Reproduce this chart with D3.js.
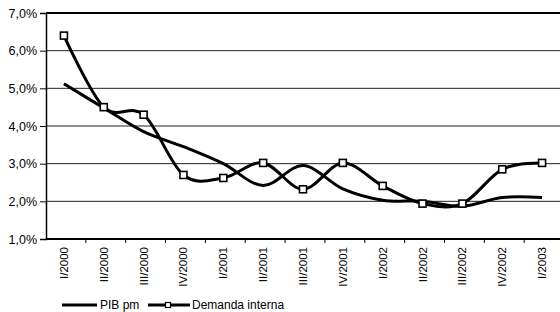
<!DOCTYPE html>
<html>
<head>
<meta charset="utf-8">
<script src="https://cdn.jsdelivr.net/npm/d3@7"></script>
<style>
  body{margin:0;background:#fff;}
  svg{display:block;font-family:"Liberation Sans",Arial,sans-serif;}
</style>
</head>
<body>
<div id="chart"></div>
<script>
const categories=["I/2000","II/2000","III/2000","IV/2000","I/2001","II/2001","III/2001","IV/2001","I/2002","II/2002","III/2002","IV/2002","I/2003"];
const pibValues=[5.12,4.48,3.85,3.45,3.0,2.42,2.95,2.33,2.03,2.0,1.87,2.1,2.1];
const demandaValues=[6.4,4.5,4.3,2.7,2.62,3.02,2.32,3.02,2.41,1.94,1.94,2.85,3.02];
const yTicks=[1,2,3,4,5,6,7];
const seriesNames=["PIB pm","Demanda interna"];

const chartW=560, chartH=312;
const plotLeft=46, plotRight=564, plotTop=13, plotBottom=239;

const svg=d3.select("#chart").append("svg")
  .attr("width",chartW)
  .attr("height",chartH);

const x=d3.scaleBand().domain(categories).range([plotLeft,plotRight]);
const y=d3.scaleLinear().domain([1,7]).range([plotBottom,plotTop]);
const fmt=(v)=>v.toFixed(1).replace(".",",")+"%";

// gridlines
svg.append("g")
  .selectAll("line")
  .data(yTicks.filter(d=>d>1&&d<7))
  .enter()
  .append("line")
  .attr("x1",plotLeft).attr("x2",plotRight)
  .attr("y1",d=>y(d)).attr("y2",d=>y(d))
  .style("stroke","#222")
  .style("stroke-width",1);

// top border
svg.append("line")
  .attr("x1",plotLeft).attr("x2",plotRight)
  .attr("y1",y(7)).attr("y2",y(7))
  .style("stroke","#000").style("stroke-width",2);

// y axis
const yAxis=svg.append("g")
  .attr("transform","translate("+plotLeft+",0)")
  .call(d3.axisLeft(y).tickValues(yTicks).tickFormat(fmt).tickSize(6).tickPadding(3));
yAxis.select(".domain").style("stroke","#000").style("stroke-width",1.5);
yAxis.selectAll(".tick line").style("stroke","#000");
yAxis.selectAll("text").style("font-size","12.5px").style("fill","#000");

// x axis line + ticks at band edges
svg.append("line")
  .attr("x1",plotLeft).attr("x2",plotRight)
  .attr("y1",plotBottom).attr("y2",plotBottom)
  .style("stroke","#000").style("stroke-width",1.8);
svg.append("g")
  .selectAll("line")
  .data(categories)
  .enter()
  .append("line")
  .attr("x1",d=>x(d)+x.bandwidth()).attr("x2",d=>x(d)+x.bandwidth())
  .attr("y1",plotBottom).attr("y2",plotBottom+4)
  .style("stroke","#000");

// x labels, rotated
svg.append("g")
  .selectAll("text")
  .data(categories)
  .enter()
  .append("text")
  .attr("transform",d=>"translate("+(x(d)+x.bandwidth()/2-2)+","+(plotBottom+8)+") rotate(-90)")
  .attr("text-anchor","end")
  .attr("dy","0.35em")
  .style("font-size","11.5px")
  .text(d=>d);

const cx=(d,i)=>x(categories[i])+x.bandwidth()/2-2;
const line=d3.line()
  .x((d,i)=>cx(d,i))
  .y(d=>y(d))
  .curve(d3.curveCardinal.tension(0));

svg.append("path")
  .datum(pibValues)
  .attr("d",line)
  .style("fill","none").style("stroke","#000").style("stroke-width",3);

svg.append("path")
  .datum(demandaValues)
  .attr("d",line)
  .style("fill","none").style("stroke","#000").style("stroke-width",3);

svg.append("g")
  .selectAll("rect")
  .data(demandaValues)
  .enter()
  .append("rect")
  .attr("x",(d,i)=>cx(d,i)-3.5)
  .attr("y",d=>y(d)-3.5)
  .attr("width",7).attr("height",7)
  .style("fill","#fff").style("stroke","#000").style("stroke-width",1.6);

// legend
const ly=305;
const legend=svg.append("g");
legend.append("line")
  .attr("x1",62).attr("x2",97).attr("y1",ly).attr("y2",ly)
  .style("stroke","#000").style("stroke-width",3);
legend.append("text")
  .attr("x",100).attr("y",ly).attr("dy","0.35em")
  .style("font-size","12px").text(seriesNames[0]);
legend.append("line")
  .attr("x1",148).attr("x2",190).attr("y1",ly).attr("y2",ly)
  .style("stroke","#000").style("stroke-width",3);
legend.append("rect")
  .attr("x",165.5).attr("y",ly-2.5).attr("width",5).attr("height",5)
  .style("fill","#fff").style("stroke","#000").style("stroke-width",1.2);
legend.append("text")
  .attr("x",192).attr("y",ly).attr("dy","0.35em")
  .style("font-size","12px").text(seriesNames[1]);
</script>
</body>
</html>
